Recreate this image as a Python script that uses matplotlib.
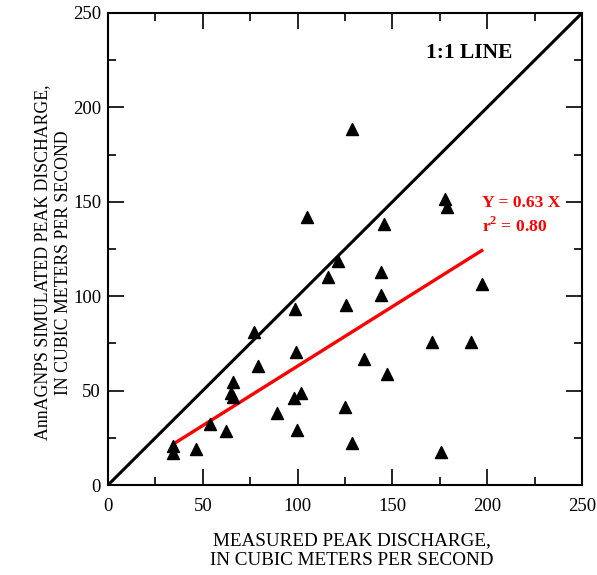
import numpy as np
import matplotlib
matplotlib.use("Agg")
from matplotlib import pyplot as plt
from matplotlib.ticker import MultipleLocator

# measured vs simulated peak discharge, m3/s
measured = [34.5, 34.5, 46.4, 53.8, 62.2, 64.9, 65.8, 66.1, 77.2, 79.0,
            89.0, 98.3, 98.6, 99.2, 99.5, 101.8, 104.8, 115.9, 121.5, 125.2,
            125.5, 128.5, 128.5, 135.2, 144.0, 144.0, 145.6, 147.0, 170.7, 175.5,
            177.7, 179.0, 191.5, 197.1]
simulated = [20.8, 17.1, 18.9, 32.3, 28.6, 48.6, 46.5, 54.7, 81.2, 63.0,
             38.0, 45.9, 93.2, 70.6, 29.1, 48.6, 141.8, 110.3, 118.8, 41.2,
             95.3, 22.4, 188.4, 66.7, 100.6, 112.7, 138.2, 58.8, 75.9, 17.3,
             151.3, 147.1, 75.9, 106.3]
slope = 0.63
r2 = 0.80

plt.rcParams['font.family'] = ['Liberation Serif', 'DejaVu Serif']
plt.rcParams['mathtext.fontset'] = 'custom'
plt.rcParams['mathtext.rm'] = 'Liberation Serif'
plt.rcParams['mathtext.bf'] = 'Liberation Serif:bold'

fig = plt.figure(figsize=(5.97, 5.75), dpi=100)
ax = fig.add_axes([0.1809, 0.1565, 0.794, 0.8209])

# 1:1 line
ax.plot([0, 250], [0, 250], color='black', lw=2.2, zorder=2)

# regression line over data range
xfit = np.array([min(measured), max(measured)])
ax.plot(xfit, slope * xfit, color='red', lw=2.4, zorder=2)

ax.scatter(measured, simulated, marker='^', s=75, color='black', zorder=3)

ax.set_xlim(0, 250)
ax.set_ylim(0, 250)
ax.xaxis.set_major_locator(MultipleLocator(50))
ax.xaxis.set_minor_locator(MultipleLocator(25))
ax.yaxis.set_major_locator(MultipleLocator(50))
ax.yaxis.set_minor_locator(MultipleLocator(25))
ax.tick_params(which='both', direction='in', top=True, right=True, labelsize=13.5, width=1.2)
ax.tick_params(which='major', length=11.5)
ax.tick_params(which='minor', length=5.8)
ax.tick_params(axis='x', which='major', pad=9)
ax.tick_params(axis='y', which='major', pad=5)
for s in ax.spines.values():
    s.set_linewidth(1.5)

ax.text(167.5, 229, '1:1 LINE', fontsize=15.5, fontweight='bold', va='center', ha='left')
ax.text(197.5, 149.5, 'Y = 0.63 X', fontsize=12.6, fontweight='bold', color='red', va='center')
ax.text(197.5, 137, 'r$^{\\mathbf{2}}$ = %.2f' % r2, fontsize=12.6, fontweight='bold', color='red', va='center')

ax.set_xlabel('MEASURED PEAK DISCHARGE,\nIN CUBIC METERS PER SECOND', fontsize=13.8,
              labelpad=13, linespacing=1.2)
ax.set_ylabel('AnnAGNPS SIMULATED PEAK DISCHARGE,\nIN CUBIC METERS PER SECOND', fontsize=12.8,
              labelpad=1, linespacing=1.25)
# labels sit a little off-centre in the original
ax.xaxis.label.set_x(0.515)
ax.yaxis.label.set_y(0.472)

fig.savefig('out.png', dpi=100)
